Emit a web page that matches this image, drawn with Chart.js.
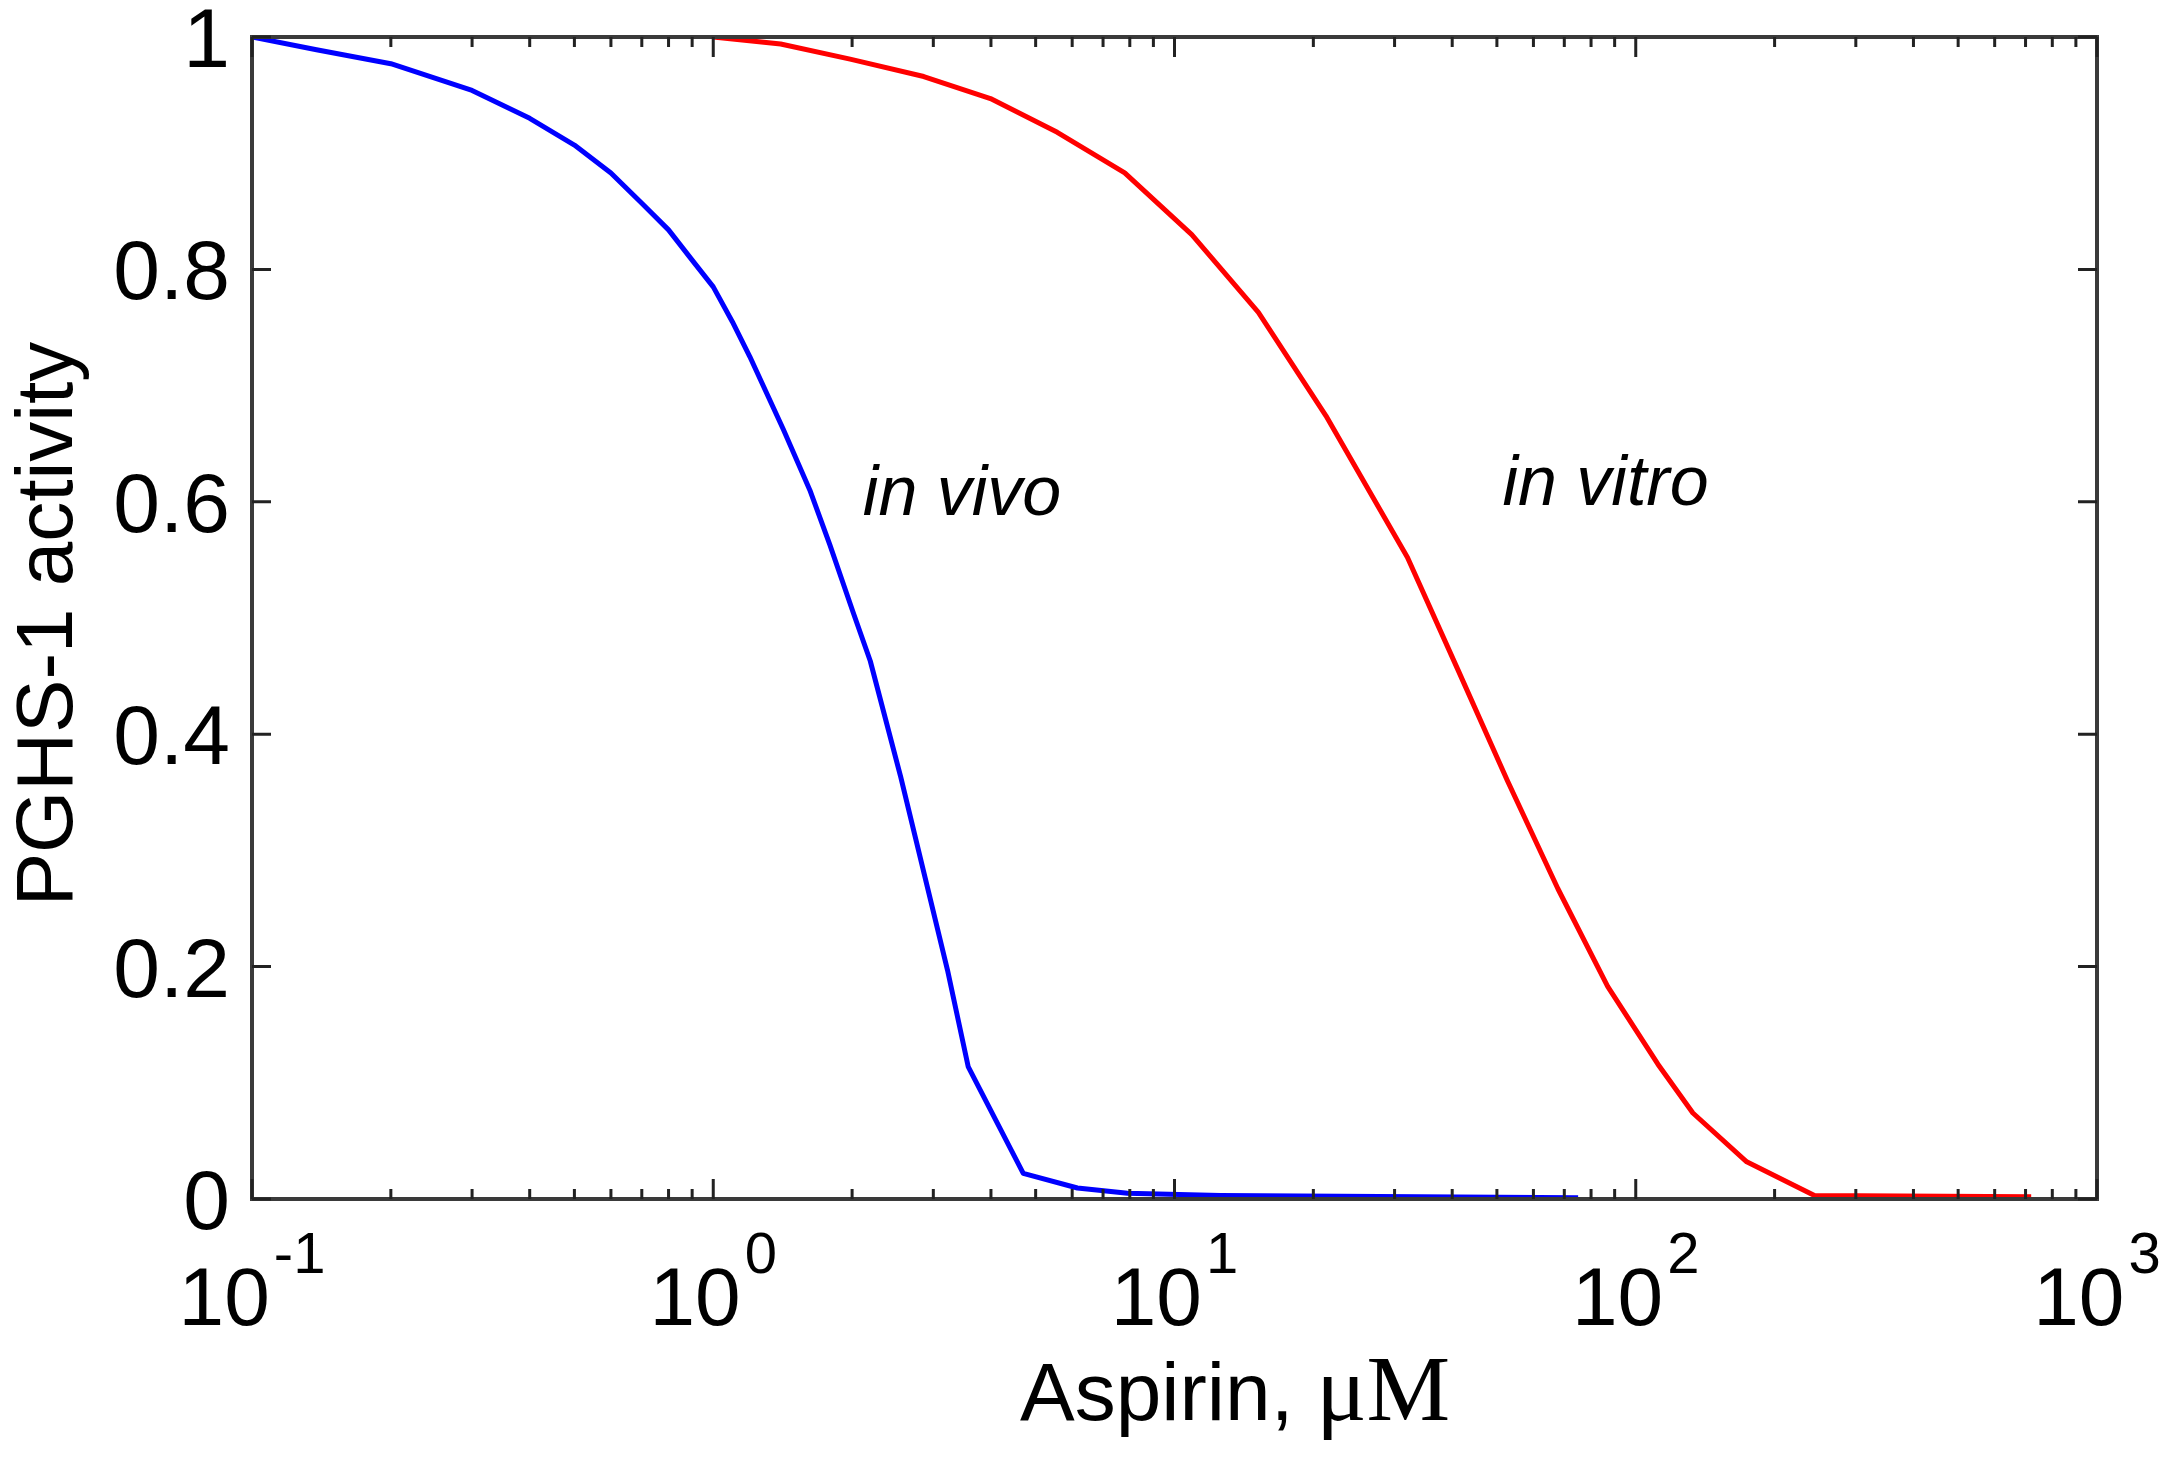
<!DOCTYPE html>
<html>
<head>
<meta charset="utf-8">
<script src="https://cdn.jsdelivr.net/npm/chart.js@4/dist/chart.umd.min.js"></script>
<style>
  html, body { margin: 0; padding: 0; background: #fff; }
  canvas { display: block; }
</style>
</head>
<body>
<canvas id="grafico" width="2166" height="1458" style="width:2166px;height:1458px"></canvas>
<script>
// dados
var vivoDose = [0.1, 0.138, 0.2, 0.3, 0.4, 0.5, 0.6, 0.7, 0.8, 0.9, 1.0, 1.1, 1.2, 1.42, 1.62, 1.79, 2.01, 2.19, 2.55, 2.91, 3.22, 3.57, 4.70, 6.16, 7.91, 12.6, 75];
var vivoActivity = [1.0, 0.989, 0.977, 0.954, 0.930, 0.907, 0.883, 0.857, 0.834, 0.808, 0.785, 0.755, 0.725, 0.662, 0.610, 0.563, 0.505, 0.463, 0.363, 0.269, 0.197, 0.114, 0.022, 0.0095, 0.005, 0.003, 0.001];

var vitroDose = [1.0, 1.40, 1.98, 2.86, 3.99, 5.57, 7.80, 10.9, 15.2, 21.3, 32.0, 41.1, 52.7, 67.8, 86.9, 111.7, 133, 174, 244, 720];
var vitroActivity = [1.0, 0.994, 0.981, 0.966, 0.947, 0.918, 0.883, 0.830, 0.763, 0.674, 0.552, 0.456, 0.360, 0.267, 0.183, 0.116, 0.074, 0.032, 0.003, 0.002];

var yTicks = [0, 0.2, 0.4, 0.6, 0.8, 1];
var yTickLabels = ['0', '0.2', '0.4', '0.6', '0.8', '1'];
var xTicks = [0.1, 1, 10, 100, 1000];
var xTickExponents = ['-1', '0', '1', '2', '3'];

var curveNames = ['in vivo', 'in vitro'];

function pontos(xs, ys) {
  return xs.map(function (x, i) { return { x: x, y: ys[i] }; });
}

var SANS = '"Liberation Sans", Arial, sans-serif';
var SERIF = '"Liberation Serif", "Times New Roman", serif';

// rótulos das curvas (posição em coordenadas de dados)
var notas = [
  { text: curveNames[0], x: 2.11, y: 0.589 },
  { text: curveNames[1], x: 51.4, y: 0.597 }
];

// eixos estilo MATLAB: caixa, ticks para dentro, expoentes
var eixosMatlab = {
  id: 'eixosMatlab',
  afterDatasetsDraw: function (chart) {
    var ctx = chart.ctx;
    var a = chart.chartArea;
    var xs = chart.scales.x;
    var ys = chart.scales.y;
    ctx.save();
    ctx.strokeStyle = '#3a3a3a';
    ctx.lineWidth = 4;
    ctx.strokeRect(a.left, a.top, a.right - a.left, a.bottom - a.top);

    ctx.lineWidth = 3;
    ctx.strokeStyle = '#222';
    ctx.beginPath();
    // ticks do eixo x (maiores e menores), em baixo e em cima
    for (var d = 0; d < xTicks.length; d++) {
      var px = xs.getPixelForValue(xTicks[d]);
      ctx.moveTo(px, a.bottom); ctx.lineTo(px, a.bottom - 20);
      ctx.moveTo(px, a.top); ctx.lineTo(px, a.top + 20);
      if (d < xTicks.length - 1) {
        for (var m = 2; m <= 9; m++) {
          var mx = xs.getPixelForValue(xTicks[d] * m);
          ctx.moveTo(mx, a.bottom); ctx.lineTo(mx, a.bottom - 10);
          ctx.moveTo(mx, a.top); ctx.lineTo(mx, a.top + 10);
        }
      }
    }
    // ticks do eixo y, esquerda e direita
    for (var k = 0; k < yTicks.length; k++) {
      var py = ys.getPixelForValue(yTicks[k]);
      ctx.moveTo(a.left, py); ctx.lineTo(a.left + 19, py);
      ctx.moveTo(a.right, py); ctx.lineTo(a.right - 19, py);
    }
    ctx.stroke();
    ctx.restore();
  },
  afterDraw: function (chart) {
    var ctx = chart.ctx;
    var a = chart.chartArea;
    var xs = chart.scales.x;
    var ys = chart.scales.y;
    ctx.save();
    ctx.fillStyle = '#000';

    // rótulos do eixo y
    ctx.font = '84px ' + SANS;
    ctx.textAlign = 'right';
    ctx.textBaseline = 'alphabetic';
    for (var k = 0; k < yTicks.length; k++) {
      var py = ys.getPixelForValue(yTicks[k]);
      ctx.fillText(yTickLabels[k], a.left - 22, py + 30);
    }

    // rótulos do eixo x: 10 com expoente
    ctx.textAlign = 'left';
    for (var d = 0; d < xTicks.length; d++) {
      var px = xs.getPixelForValue(xTicks[d]);
      ctx.font = '82px ' + SANS;
      var w1 = ctx.measureText('10').width;
      ctx.font = '58px ' + SANS;
      var w2 = ctx.measureText(xTickExponents[d]).width;
      var x0 = px - (w1 + w2 + 4) / 2;
      ctx.font = '82px ' + SANS;
      ctx.fillText('10', x0, a.bottom + 126);
      ctx.font = '58px ' + SANS;
      ctx.fillText(xTickExponents[d], x0 + w1 + 4, a.bottom + 74);
    }

    // título do eixo x: Aspirin, µM
    ctx.font = '82px ' + SANS;
    var t1 = 'Aspirin, ';
    var tx = a.left + 768;
    ctx.fillText(t1, tx, a.bottom + 221);
    var wt = ctx.measureText(t1).width;
    ctx.font = '94px ' + SERIF;
    ctx.fillText('\u03bcM', tx + wt, a.bottom + 221);

    // título do eixo y
    ctx.save();
    ctx.translate(72, (a.top + a.bottom) / 2 + 6);
    ctx.rotate(-Math.PI / 2);
    ctx.font = '80px ' + SANS;
    ctx.textAlign = 'center';
    ctx.fillText('PGHS-1 activity', 0, 0);
    ctx.restore();

    // nomes das curvas
    ctx.font = 'italic 70px ' + SANS;
    ctx.textAlign = 'left';
    notas.forEach(function (n) {
      ctx.fillText(n.text, xs.getPixelForValue(n.x), ys.getPixelForValue(n.y));
    });
    ctx.restore();
  }
};

var ctx = document.getElementById('grafico').getContext('2d');

var grafico = new Chart(ctx, {
  type: 'line',
  data: {
    datasets: [{
      label: curveNames[0],
      data: pontos(vivoDose, vivoActivity),
      borderColor: '#0000ff',
      borderWidth: 5,
      pointRadius: 0,
      tension: 0,
      borderJoinStyle: 'round',
      fill: false
    }, {
      label: curveNames[1],
      data: pontos(vitroDose, vitroActivity),
      borderColor: '#ff0000',
      borderWidth: 5,
      pointRadius: 0,
      tension: 0,
      borderJoinStyle: 'round',
      fill: false
    }]
  },
  options: {
    responsive: false,
    animation: false,
    devicePixelRatio: 1,
    layout: { padding: { left: 252, right: 69, top: 37, bottom: 259 } },
    plugins: {
      legend: { display: false },
      tooltip: { enabled: false }
    },
    scales: {
      x: {
        type: 'logarithmic',
        min: 0.1,
        max: 1000,
        ticks: { display: false },
        grid: { display: false, drawTicks: false },
        border: { display: false },
        afterFit: function (s) { s.height = 0; }
      },
      y: {
        type: 'linear',
        min: 0,
        max: 1,
        ticks: { display: false },
        grid: { display: false, drawTicks: false },
        border: { display: false },
        afterFit: function (s) { s.width = 0; }
      }
    }
  },
  plugins: [eixosMatlab]
});
</script>
</body>
</html>
